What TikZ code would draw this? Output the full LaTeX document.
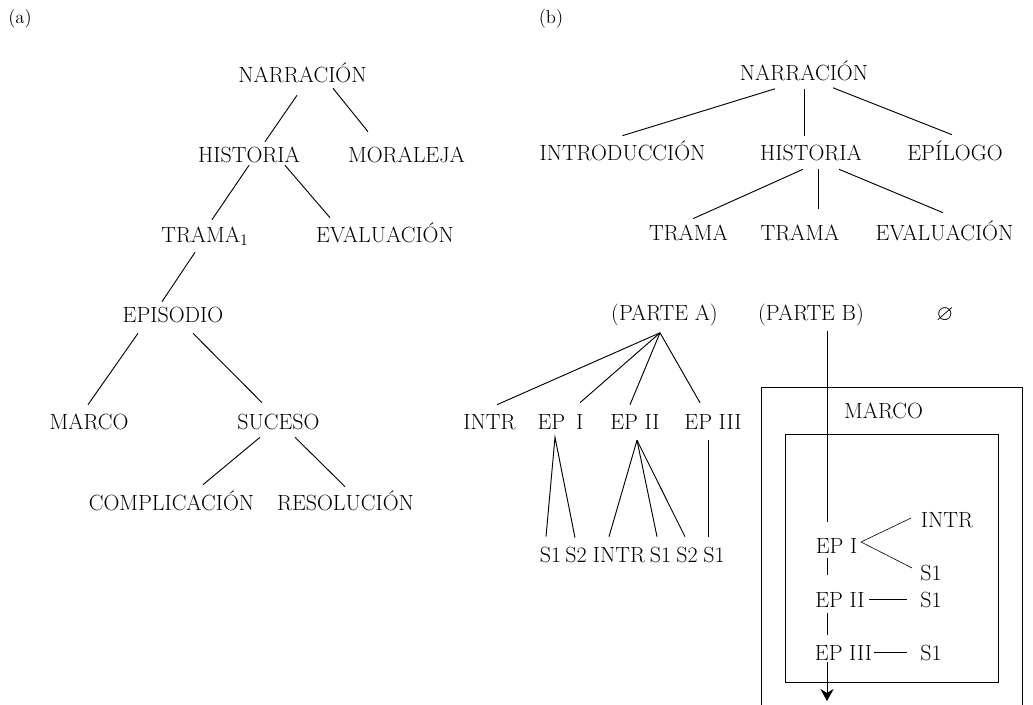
\documentclass[tikz,border=0pt]{standalone}
\usepackage{fontspec}
\usepackage{amssymb}
\usepackage{tikz}
\tikzset{lbl/.style={inner sep=0pt,text height=11.3pt,text depth=0pt,font=\fontsize{16.5}{19}\selectfont},
	tag/.style={inner sep=0pt,font=\fontsize{14}{17}\selectfont},
	edge/.style={line width=.7pt},
	fork/.style={line width=.45pt},
	frame/.style={line width=.6pt}}
\usetikzlibrary{calc,arrows.meta}

\begin{document}
\begin{tikzpicture}[>={Stealth[length=9pt,width=10pt]},x=.75pt,y=-.75pt]
	\useasboundingbox (0,0) rectangle (1033,705);
	\node[tag] (labA) at (20,19) {(a)};
	\node[tag] (labB) at (551,19) {(b)};

	\node[lbl] (narrA) at (302.5,74.5) {NARRACIÓN};
	\node[lbl] (histA) at (249,154.5) {HISTORIA};
	\node[lbl] (moralA) at (406.5,154.5) {MORALEJA};
	\node[lbl] (tramaA) at (205,234.5) {TRAMA$_1$};
	\node[lbl] (evalA) at (385,234.5) {EVALUACIÓN};
	\node[lbl] (episA) at (173,314.5) {EPISODIO};
	\node[lbl] (marcoA) at (89,421.5) {MARCO};
	\node[lbl] (sucesoA) at (278.5,421.5) {SUCESO};
	\node[lbl] (compA) at (171.5,502.5) {COMPLICACIÓN};
	\node[lbl] (resolA) at (345.5,502.5) {RESOLUCIÓN};
	\draw[edge] ($(narrA.south)+(-5.5,13)$) -- ($(histA.north)+(16,-5)$);
	\draw[edge] ($(narrA.south)+(30.5,6)$) -- ($(moralA.north)+(-38.5,-15)$);
	\draw[edge] ($(histA.south)+(0,3)$) -- ($(tramaA.north)+(7,-7)$);
	\draw[edge] ($(histA.south)+(36,3)$) -- ($(evalA.north)+(-55,-9)$);
	\draw[edge] ($(tramaA.south)+(-10,10)$) -- ($(episA.north)+(-11,-5)$);
	\draw[edge] ($(episA.south)+(-35,11)$) -- ($(marcoA.north)+(-1,-9)$);
	\draw[edge] ($(episA.south)+(20,11)$) -- ($(sucesoA.north)+(-16.5,-11)$);
	\draw[edge] ($(sucesoA.south)+(-18.5,8)$) -- ($(compA.north)+(31.5,-10)$);
	\draw[edge] ($(sucesoA.south)+(16.5,8)$) -- ($(resolA.north)+(-0.5,-8)$);

	\node[lbl] (narrB) at (804,73) {NARRACIÓN};
	\node[lbl] (introB) at (622.5,152.5) {INTRODUCCIÓN};
	\node[lbl] (histB) at (811,152.5) {HISTORIA};
	\node[lbl] (epilB) at (955,152.5) {EPÍLOGO};
	\node[lbl] (tramaOneB) at (688.5,232.5) {TRAMA};
	\node[lbl] (tramaTwoB) at (800,232.5) {TRAMA};
	\node[lbl] (evalB) at (944.5,232.5) {EVALUACIÓN};
	\node[lbl] (parteA) at (664.5,313) {(PARTE A)};
	\node[lbl] (parteB) at (811,313) {(PARTE B)};
	\node[lbl] (vacio) at (945,313) {$\varnothing$};
	\draw[edge] ($(narrB.south)+(-29,8)$) -- ($(introB.north)+(0,-9)$);
	\draw[edge] ($(narrB.south)+(0,8)$) -- ($(histB.north)+(-7,-9)$);
	\draw[edge] ($(narrB.south)+(29,7)$) -- ($(epilB.north)+(-3,-10)$);
	\draw[edge] ($(histB.south)+(-8,9)$) -- ($(tramaOneB.north)+(4.5,-6)$);
	\draw[edge] ($(histB.south)+(7,9)$) -- ($(tramaTwoB.north)+(18,-16)$);
	\draw[edge] ($(histB.south)+(28,9)$) -- ($(evalB.north)+(-1.5,-12)$);

	\node[lbl] (intrA) at (489.5,421.5) {INTR};
	\node[lbl] (epOne) at (560.5,421.5) {EP\hspace{.5em}I};
	\node[lbl] (epTwo) at (635,421.5) {EP II};
	\node[lbl] (epThree) at (713,421.5) {EP III};
	\node[lbl] (sOneA) at (550.5,554.5) {S1};
	\node[lbl] (sTwoA) at (576,554.5) {S2};
	\node[lbl] (intrB) at (619,554.5) {INTR};
	\node[lbl] (sOneB) at (660.5,554.5) {S1};
	\node[lbl] (sTwoB) at (687,554.5) {S2};
	\node[lbl] (sOneC) at (714,554.5) {S1};
	\coordinate (apexA) at ($(parteA.south)+(-4.5,12)$);
	\draw[edge] (apexA) -- ($(intrA.north)+(7.5,-9)$);
	\draw[edge] (apexA) -- ($(epOne.north)+(19.5,-11)$);
	\draw[edge] (apexA) -- ($(epTwo.north)+(-5,-9)$);
	\draw[edge] (apexA) -- ($(epThree.north)+(-13,-11)$);
	\draw[edge] ($(sOneA.north)+(-4.5,-10)$) -- ($(epOne.south)+(-5.5,8)$) -- ($(sTwoA.north)+(-1,-9)$);
	\coordinate (apexB) at ($(epTwo.south)+(2,11)$);
	\draw[edge] (apexB) -- ($(intrB.north)+(-10,-10)$);
	\draw[edge] (apexB) -- ($(sOneB.north)+(-3.5,-10)$);
	\draw[edge] (apexB) -- ($(sTwoB.north)+(-2,-10)$);
	\draw[edge] ($(epThree.south)+(-5,11)$) -- ($(sOneC.north)+(-6,-10)$);

	\draw[frame] (761,712) -- (761,387) -- (1022,387) -- (1022,712);
	\draw[frame] (785,434) rectangle (998,682);
	\node[lbl] (marcoB) at (883.5,411) {MARCO};
	\node[lbl] (intrC) at (947,519.5) {INTR};
	\node[lbl] (epIb) at (836.5,545.5) {EP I};
	\node[lbl] (sOneD) at (931,572.5) {S1};
	\node[lbl] (epIIb) at (840,599.5) {EP II};
	\node[lbl] (sOneE) at (931,599.5) {S1};
	\node[lbl] (epIIIb) at (843.5,652.5) {EP III};
	\node[lbl] (sOneF) at (931,652.5) {S1};
	\coordinate (flow) at (827,701);
	\draw[edge] ($(parteB.south -| flow)+(0,10)$) -- ($(epIb.north -| flow)+(0,-16)$);
	\draw[edge] ($(epIb.south -| flow)+(0,5)$) -- ($(epIIb.north -| flow)+(0,-17)$);
	\draw[edge] ($(epIIb.south -| flow)+(0,6)$) -- ($(epIIIb.north -| flow)+(0,-10)$);
	\draw[edge,->] ($(epIIIb.south -| flow)+(0,2)$) -- (flow);
	\draw[fork] ($(intrC.west)+(-9.5,-1.5)$) -- ($(epIb.east)+(3.5,-3.5)$) -- ($(sOneD.west)+(-8,-4.5)$);
	\draw[edge] ($(epIIb.east)+(4,0)$) -- ($(sOneE.west)+(-13,0)$);
	\draw[edge] ($(epIIIb.east)+(2,0)$) -- ($(sOneF.west)+(-13,0)$);
\end{tikzpicture}
\end{document}
